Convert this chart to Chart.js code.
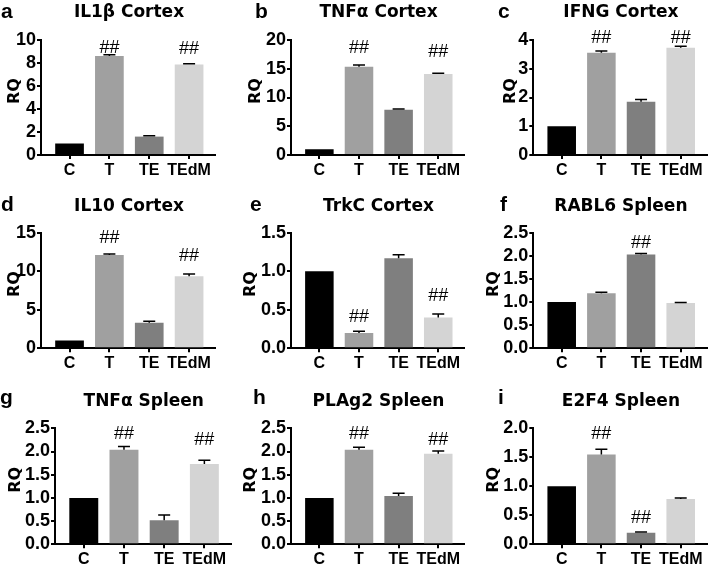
<!DOCTYPE html>
<html><head><meta charset="utf-8">
<script src="https://cdn.jsdelivr.net/npm/chart.js@4.4.1/dist/chart.umd.min.js"></script>
<style>
html,body{margin:0;padding:0;background:#fff;}
#wrap{position:relative;width:709px;height:565px;overflow:hidden;background:#fff;}
#wrap canvas{position:absolute;}
</style></head><body><div id="wrap"></div>
<script>
// ---------- DATA ----------
const categories = ['C', 'T', 'TE', 'TEdM'];
const panelLetters = ['a', 'b', 'c', 'd', 'e', 'f', 'g', 'h', 'i'];
const panelTitles = ['IL1β Cortex', 'TNFα Cortex', 'IFNG Cortex', 'IL10 Cortex', 'TrkC Cortex',
                     'RABL6 Spleen', 'TNFα Spleen', 'PLAg2 Spleen', 'E2F4 Spleen'];
const yAxisTitle = 'RQ';
const sigMark = '##';

const valuesA = [1.0, 8.6, 1.6, 7.88];   const errorsA = [0, 0.12, 0.08, 0.06];  const sigA = [null, 8.84, null, 8.8];   const ticksA = ['0', '2', '4', '6', '8', '10'];
const valuesB = [1.0, 15.35, 7.85, 14.1]; const errorsB = [0, 0.3, 0.15, 0.1];    const sigB = [null, 17.7, null, 17.0];  const ticksB = ['0', '5', '10', '15', '20'];
const valuesC = [1.0, 3.56, 1.85, 3.73];  const errorsC = [0, 0.06, 0.08, 0.05];  const sigC = [null, 3.89, null, 3.89];  const ticksC = ['0', '1', '2', '3', '4'];
const valuesD = [1.0, 12.1, 3.3, 9.35];   const errorsD = [0, 0.12, 0.2, 0.3];    const sigD = [null, 13.6, null, 11.3];  const ticksD = ['0', '5', '10', '15'];
const valuesE = [1.0, 0.2, 1.17, 0.40];   const errorsE = [0, 0.02, 0.045, 0.045]; const sigE = [null, 0.345, null, 0.61]; const ticksE = ['0.0', '0.5', '1.0', '1.5'];
const valuesF = [1.0, 1.19, 2.03, 0.98];  const errorsF = [0, 0.02, 0.02, 0.01];  const sigF = [null, null, 2.16, null];  const ticksF = ['0.0', '0.5', '1.0', '1.5', '2.0', '2.5'];
const valuesG = [1.0, 2.04, 0.52, 1.73];  const errorsG = [0, 0.07, 0.11, 0.08];  const sigG = [null, 2.28, null, 2.14];  const ticksG = ['0.0', '0.5', '1.0', '1.5', '2.0', '2.5'];
const valuesH = [1.0, 2.04, 1.04, 1.95];  const errorsH = [0, 0.05, 0.06, 0.06];  const sigH = [null, 2.27, null, 2.14];  const ticksH = ['0.0', '0.5', '1.0', '1.5', '2.0', '2.5'];
const valuesI = [1.0, 1.55, 0.2, 0.78];   const errorsI = [0, 0.09, 0.01, 0.02];  const sigI = [null, 1.82, 0.36, null];  const ticksI = ['0.0', '0.5', '1.0', '1.5', '2.0'];

// ---------- STYLE / LAYOUT ----------
const barColors = ['#000000', '#a0a0a0', '#7f7f7f', '#d4d4d4'];
const COLS = [{x: 0, w: 236}, {x: 236, w: 236}, {x: 472, w: 237}];
const ROWS = [
  {y: 0,   h: 185, top: 40,   bottom: 155,   titleBase: 16.7, letterBase: 18.3},
  {y: 185, h: 190, top: 47.7, bottom: 163.3, titleBase: 25.5, letterBase: 26},
  {y: 375, h: 190, top: 53.3, bottom: 169.3, titleBase: 30.7, letterBase: 29.3}
];
const PLOT_LR = [[41, 215], [55, 228], [61.3, 234.5], [41, 215], [55, 228], [61.3, 234.5], [55, 230.5], [55, 228], [61.3, 234.5]];
const LETTER_X = [1, 19, 26, 1, 14, 28, 0, 17, 26];
const RQ_X = [15.3, 20, 39, 15.3, 14.8, 22, 16, 14.8, 22];
const X_MIN = -0.716, X_MAX = 3.65;

const panelData = [
  [valuesA, errorsA, sigA, ticksA], [valuesB, errorsB, sigB, ticksB], [valuesC, errorsC, sigC, ticksC],
  [valuesD, errorsD, sigD, ticksD], [valuesE, errorsE, sigE, ticksE], [valuesF, errorsF, sigF, ticksF],
  [valuesG, errorsG, sigG, ticksG], [valuesH, errorsH, sigH, ticksH], [valuesI, errorsI, sigI, ticksI]
];

const errorBarPlugin = {
  id: 'errorBars',
  afterDatasetsDraw(chart) {
    const ctx = chart.ctx, x = chart.scales.x, y = chart.scales.y;
    const ds = chart.data.datasets[0];
    ctx.save();
    ctx.strokeStyle = '#000';
    ctx.lineWidth = 1.5;
    ds.data.forEach((pt, i) => {
      const e = ds.errors[i];
      if (!e) return;
      const px = x.getPixelForValue(pt.x);
      const y0 = y.getPixelForValue(pt.y);
      const y1 = y.getPixelForValue(pt.y + e);
      ctx.beginPath();
      ctx.moveTo(px, y0); ctx.lineTo(px, y1);
      ctx.moveTo(px - 6, y1); ctx.lineTo(px + 6, y1);
      ctx.stroke();
    });
    ctx.restore();
  }
};

function makeTextPlugin(idx, row) {
  return {
    id: 'panelText' + idx,
    afterDraw(chart) {
      const ctx = chart.ctx, ca = chart.chartArea, x = chart.scales.x, y = chart.scales.y;
      const ds = chart.data.datasets[0];
      ctx.save();
      ctx.fillStyle = '#000';
      // panel letter
      ctx.font = 'bold 21px "Liberation Sans", Arial, sans-serif';
      ctx.textAlign = 'left'; ctx.textBaseline = 'alphabetic';
      ctx.fillText(panelLetters[idx], LETTER_X[idx], row.letterBase);
      // title
      ctx.font = 'bold 17px "DejaVu Sans", sans-serif';
      ctx.textAlign = 'center';
      ctx.fillText(panelTitles[idx], (ca.left + ca.right) / 2 + 1, row.titleBase);
      // y axis title
      ctx.save();
      ctx.translate(RQ_X[idx], (ca.top + ca.bottom) / 2 - 6.5);
      ctx.rotate(-Math.PI / 2);
      ctx.font = 'bold 16px "DejaVu Sans", sans-serif';
      ctx.textAlign = 'center'; ctx.textBaseline = 'middle';
      ctx.fillText(yAxisTitle, 0, 0);
      ctx.restore();
      // significance marks
      ctx.font = '18px "Liberation Sans", Arial, sans-serif';
      ctx.textAlign = 'center'; ctx.textBaseline = 'alphabetic';
      ds.sig.forEach((s, i) => {
        if (s == null) return;
        ctx.fillText(sigMark, x.getPixelForValue(i), y.getPixelForValue(s));
      });
      ctx.restore();
    }
  };
}

const wrap = document.getElementById('wrap');
panelData.forEach(([values, errors, sig, tickLabels], idx) => {
  const col = COLS[idx % 3], row = ROWS[Math.floor(idx / 3)];
  const [L, R] = PLOT_LR[idx];
  const cv = document.createElement('canvas');
  cv.width = col.w; cv.height = row.h;
  cv.style.left = col.x + 'px'; cv.style.top = row.y + 'px';
  cv.style.width = col.w + 'px'; cv.style.height = row.h + 'px';
  wrap.appendChild(cv);
  const tickVals = tickLabels.map(parseFloat);
  new Chart(cv, {
    type: 'bar',
    data: {
      datasets: [{
        data: values.map((v, i) => ({x: i, y: v})),
        errors: errors,
        sig: sig,
        backgroundColor: barColors,
        borderWidth: 0,
        barPercentage: 0.72,
        categoryPercentage: 1.0
      }]
    },
    options: {
      responsive: false,
      animation: false,
      devicePixelRatio: 1,
      events: [],
      layout: {padding: {left: 0, top: row.top, right: col.w - R, bottom: 0}},
      plugins: {legend: {display: false}, tooltip: {enabled: false}, title: {display: false}},
      scales: {
        x: {
          type: 'linear', min: X_MIN, max: X_MAX, bounds: 'data', offset: false, z: 1,
          afterBuildTicks: (s) => { s.ticks = categories.map((c, i) => ({value: i})); },
          afterFit: (s) => { s.height = row.h - row.bottom; },
          grid: {drawOnChartArea: false, drawTicks: true, tickLength: 4, color: '#000', lineWidth: 2, offset: false},
          border: {display: true, color: '#000', width: 2},
          ticks: {
            autoSkip: false, maxRotation: 0, minRotation: 0, padding: 2, color: '#000',
            font: {family: '"Liberation Sans", Arial, sans-serif', weight: 'bold', size: 16},
            callback: (v) => categories[v]
          }
        },
        y: {
          type: 'linear', min: 0, max: tickVals[tickVals.length - 1], z: 1,
          afterBuildTicks: (s) => { s.ticks = tickVals.map(v => ({value: v})); },
          afterFit: (s) => { s.width = L; },
          grid: {drawOnChartArea: false, drawTicks: true, tickLength: 4, color: '#000', lineWidth: 2},
          border: {display: true, color: '#000', width: 2},
          ticks: {
            autoSkip: false, padding: 1, color: '#000',
            font: {family: '"Liberation Sans", Arial, sans-serif', weight: 'bold', size: 18},
            callback: (v, i) => tickLabels[i]
          }
        }
      }
    },
    plugins: [errorBarPlugin, makeTextPlugin(idx, row)]
  });
});
</script></body></html>
